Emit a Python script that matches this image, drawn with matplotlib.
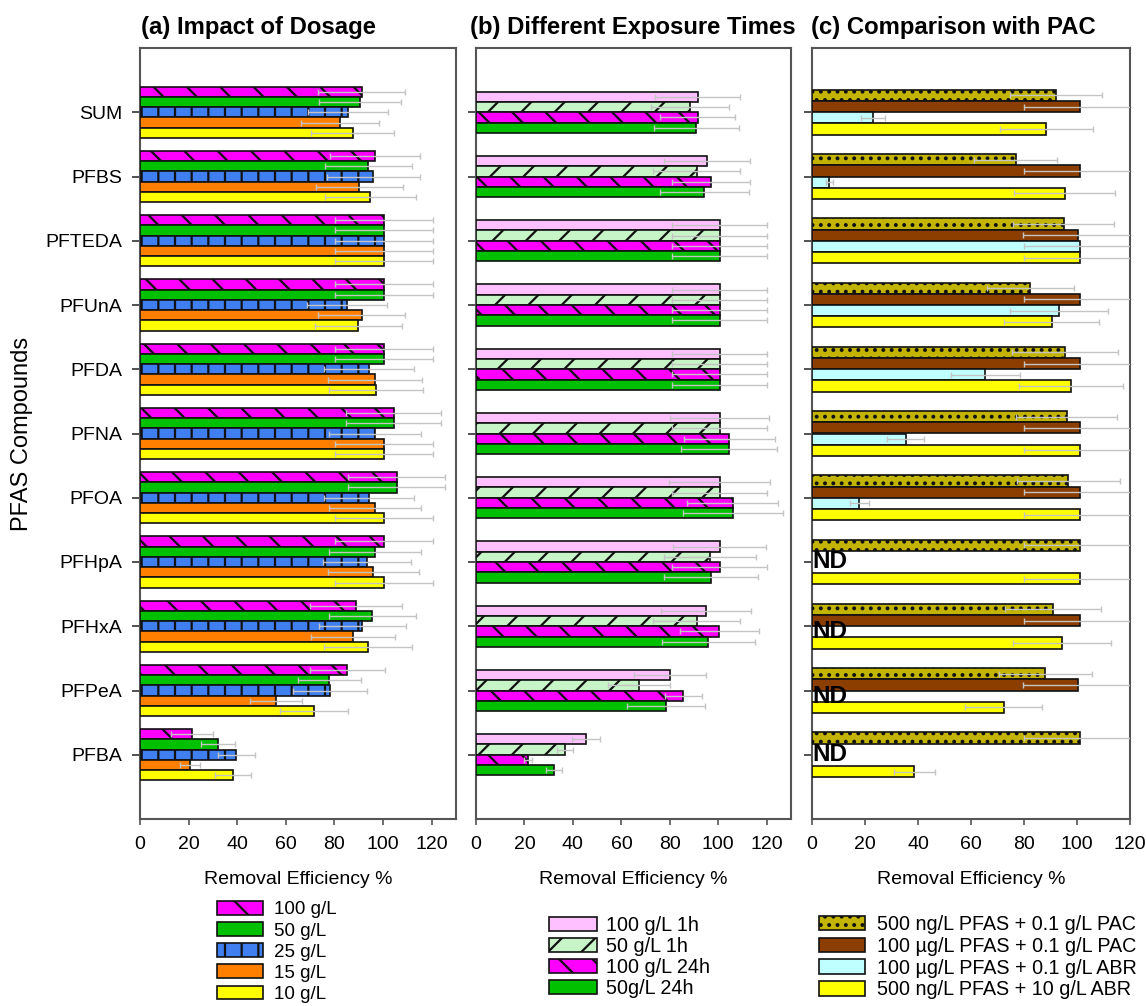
import numpy as np
import matplotlib
matplotlib.use("Agg")
import matplotlib.pyplot as plt
from matplotlib.patches import Patch

plt.rcParams["font.family"] = ["Liberation Sans", "DejaVu Sans"]
plt.rcParams["hatch.linewidth"] = 1.6

compounds = ["SUM", "PFBS", "PFTEDA", "PFUnA", "PFDA", "PFNA", "PFOA",
             "PFHpA", "PFHxA", "PFPeA", "PFBA"]
x_ticks = [0, 20, 40, 60, 80, 100, 120]

# (a) Impact of dosage
dose_labels = ["100 g/L", "50 g/L", "25 g/L", "15 g/L", "10 g/L"]
dose_100 = [91.2, 96.7, 100.4, 100.4, 100.4, 104.3, 105.6, 100.4, 88.9, 85.3, 21.5]
dose_100_err = [18, 18.5, 20, 20, 20, 19.6, 19.9, 20, 18.8, 15.5, 8.6]
dose_50 = [90.5, 94.0, 100.4, 100.4, 100.4, 104.3, 105.6, 96.7, 95.6, 77.9, 32.0]
dose_50_err = [17, 18, 20, 20, 20, 19.6, 19.9, 18.8, 17.8, 13, 7.1]
dose_25 = [85.7, 96.0, 100.4, 85.0, 94.4, 96.7, 94.2, 93.3, 91.5, 78.2, 39.6]
dose_25_err = [16.5, 19, 20, 16.5, 18.5, 18.8, 18.4, 18.2, 18, 15.1, 7.7]
dose_15 = [82.3, 90.3, 100.4, 91.2, 96.7, 100.4, 96.7, 96.0, 87.5, 56.0, 20.6]
dose_15_err = [16, 17.7, 20, 18, 19.2, 20, 18.9, 18.8, 17.2, 10.8, 4.1]
dose_10 = [87.5, 94.7, 100.4, 89.8, 97.1, 100.4, 100.4, 100.4, 93.7, 71.7, 38.1]
dose_10_err = [17, 18.7, 20, 18, 19.2, 20, 20, 20, 18.2, 14, 7.4]

# (b) Different exposure times
time_labels = ["100 g/L 1h", "50 g/L 1h", "100 g/L 24h", "50g/L 24h"]
t100_1h = [91.5, 95.3, 100.5, 100.5, 100.5, 100.5, 100.5, 100.5, 94.8, 80.1, 45.5]
t100_1h_err = [17.5, 17.9, 19.5, 19.5, 19.5, 20.5, 21, 19, 18.6, 14.9, 5.8]
t50_1h = [88.4, 91.1, 100.5, 100.5, 100.5, 100.5, 100.5, 96.6, 91.1, 67.4, 36.8]
t50_1h_err = [16.2, 17.9, 19.5, 19.5, 19.5, 19.5, 19.5, 19, 17.9, 12.8, 3.4]
t100_24h = [91.5, 97.0, 100.5, 100.5, 100.5, 104.6, 106.0, 100.5, 100.3, 85.6, 21.4]
t100_24h_err = [15.4, 16, 19.5, 19.5, 19.5, 18.8, 18.8, 19.5, 16.3, 7.8, 1.6]
t50_24h = [90.9, 94.3, 100.5, 100.5, 100.5, 104.6, 106.0, 96.9, 95.9, 78.4, 32.2]
t50_24h_err = [17.5, 18.5, 19.5, 19.5, 19.5, 19.8, 20.5, 19.4, 19.3, 16.2, 3.3]

# (c) Comparison with PAC (nan = not detected)
nan = np.nan
pac_labels = ["500 ng/L PFAS + 0.1 g/L PAC", "100 \u00b5g/L PFAS + 0.1 g/L PAC",
              "100 \u00b5g/L PFAS + 0.1 g/L ABR", "500 ng/L PFAS + 10 g/L ABR"]
pac_500ng = [92.1, 76.8, 95.0, 82.4, 95.4, 96.1, 96.7, 101.0, 91.0, 88.1, 101.1]
pac_500ng_err = [17.5, 15.5, 19, 16.5, 20, 19, 19.5, 21, 18, 17.5, 21]
pac_100ug = [101.0, 101.0, 100.3, 101.0, 101.0, 101.0, 101.0, nan, 101.0, 100.5, nan]
pac_100ug_err = [21, 21, 20.5, 21, 21, 21, 21, nan, 21, 21, nan]
abr_100ug = [22.9, 6.6, 101.0, 93.2, 65.4, 35.4, 17.9, nan, nan, nan, nan]
abr_100ug_err = [4.5, 1.5, 21, 18.5, 13, 7, 3.5, nan, nan, nan, nan]
abr_500ng = [88.4, 95.4, 101.0, 90.4, 97.8, 101.0, 101.0, 101.0, 94.4, 72.4, 38.6]
abr_500ng_err = [17.5, 19, 21, 18, 19.5, 21, 21, 21, 18.5, 14.5, 7.8]

W, H = 1146, 1006
fig = plt.figure(figsize=(W / 100, H / 100), dpi=100)


def px_axes(left, right, top=48, bottom=819):
    return fig.add_axes([left / W, 1 - bottom / H, (right - left) / W, (bottom - top) / H])


ax_a = px_axes(140, 456)
ax_b = px_axes(476, 791)
ax_c = px_axes(812, 1130)

ypos = np.arange(len(compounds))
err_kw = dict(fmt="none", ecolor="#c4c4c4", elinewidth=1.0, capsize=2, capthick=1.0, zorder=4)
EDGE = "#111111"


def draw_group(ax, series, errors, styles, height):
    n = len(series)
    handles = []
    for i, (vals, errs, (color, hatch)) in enumerate(zip(series, errors, styles)):
        y = ypos + (i - (n - 1) / 2) * height
        vals = np.asarray(vals, float)
        errs = np.asarray(errs, float)
        ok = ~np.isnan(vals)
        ax.barh(y[ok], vals[ok], height=height, color=color, hatch=hatch,
                edgecolor=EDGE, linewidth=1.2, zorder=3)
        ax.errorbar(vals[ok], y[ok], xerr=errs[ok], **err_kw)
        handles.append(Patch(facecolor=color, hatch=hatch, edgecolor=EDGE, linewidth=1.2))
    return handles


def style_axes(ax, xmax, show_labels):
    ax.set_xlim(0, xmax)
    ax.set_ylim(len(compounds), -1)
    ax.set_xticks(x_ticks)
    ax.set_yticks(ypos)
    if show_labels:
        ax.set_yticklabels(compounds)
    else:
        ax.set_yticklabels([])
    ax.tick_params(axis="y", length=6, width=1.2, color="#333333", pad=7, labelsize=14)
    ax.tick_params(axis="x", length=4, width=1.2, color="#555555", pad=8, labelsize=14)
    for s in ax.spines.values():
        s.set_color("#555555")
        s.set_linewidth(1.5)
    ax.set_xlabel("Removal Efficiency %", fontsize=14, labelpad=13)


h_a = draw_group(ax_a, [dose_100, dose_50, dose_25, dose_15, dose_10],
                 [dose_100_err, dose_50_err, dose_25_err, dose_15_err, dose_10_err],
                 [("#ff00ff", "\\"), ("#00c000", None), ("#3f7ff0", "|"),
                  ("#ff8000", None), ("#ffff00", None)], 0.16)
h_b = draw_group(ax_b, [t100_1h, t50_1h, t100_24h, t50_24h],
                 [t100_1h_err, t50_1h_err, t100_24h_err, t50_24h_err],
                 [("#ffc0ff", None), ("#c8f5c8", "/"), ("#ff00ff", "\\"),
                  ("#00c000", None)], 0.16)
c_series = [pac_500ng, pac_100ug, abr_100ug, abr_500ng]
h_c = draw_group(ax_c, c_series,
                 [pac_500ng_err, pac_100ug_err, abr_100ug_err, abr_500ng_err],
                 [("#c2b400", ".."), ("#8b3e00", None), ("#c0ffff", None),
                  ("#ffff00", None)], 0.175)

style_axes(ax_a, 130, True)
style_axes(ax_b, 130, False)
style_axes(ax_c, 120, False)
ax_a.set_ylabel("PFAS Compounds", fontsize=17, labelpad=9)

# "ND" marks where the missing series would sit
c_arr = np.array(c_series, float)
for j in range(len(compounds)):
    missing = np.where(np.isnan(c_arr[:, j]))[0]
    if len(missing):
        off = (missing.mean() - 1.5) * 0.175
        ax_c.text(0.2, ypos[j] + off, "ND", fontsize=17.5, fontweight="bold",
                  ha="left", va="center", zorder=6)

for x, t in [(141, "(a) Impact of Dosage"), (470, "(b) Different Exposure Times"),
             (811, "(c) Comparison with PAC")]:
    fig.text(x / W, 1 - 34 / H, t, fontsize=17.2, fontweight="bold", va="baseline")

leg_kw = dict(loc="upper left", frameon=False, handlelength=2.45,
              handleheight=0.75, handletextpad=0.6,
              borderpad=0, borderaxespad=0)
fig.legend(h_a, dose_labels, bbox_to_anchor=(217 / W, 1 - 901 / H), fontsize=13.5,
           labelspacing=0.2, **leg_kw)
fig.legend(h_b, time_labels, bbox_to_anchor=(549 / W, 1 - 916 / H), fontsize=14.2,
           labelspacing=0.1, **{**leg_kw, "handletextpad": 0.45})
fig.legend(h_c, pac_labels, bbox_to_anchor=(819 / W, 1 - 915 / H), fontsize=14.2,
           labelspacing=0.14, **{**leg_kw, "handlelength": 2.35})

fig.savefig("out.png", dpi=100)
